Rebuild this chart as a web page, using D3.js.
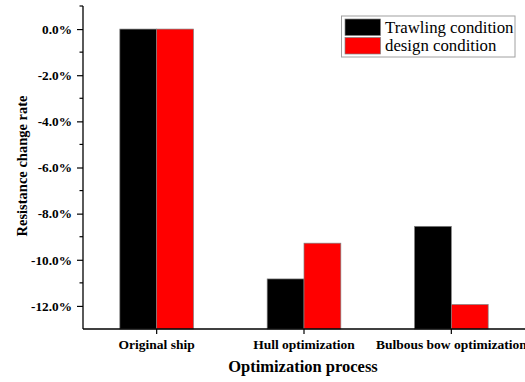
<!DOCTYPE html>
<html>
<head>
<meta charset="utf-8">
<script src="https://cdn.jsdelivr.net/npm/d3@7/dist/d3.min.js"></script>
<style>
  html, body { margin: 0; padding: 0; background: #fff; overflow: hidden; }
  svg { display: block; font-family: "Liberation Serif", "Times New Roman", serif; }
  svg text { font-family: "Liberation Serif", "Times New Roman", serif; }
</style>
</head>
<body>
<svg id="chart" width="525" height="382"></svg>
<script>
// Resistance change rate (%) per optimization stage
const categories = ["Original ship", "Hull optimization", "Bulbous bow optimization"];
const seriesNames = ["Trawling condition", "design condition"];
const trawling = [0.0, -10.83, -8.55];
const design = [0.0, -9.28, -11.94];
const yTicks = [0, -2, -4, -6, -8, -10, -12];
const yMinorTicks = [1, -1, -3, -5, -7, -9, -11];
const colors = ["#000000", "#ff0000"];

const svg = d3.select("#chart");
const margin = { left: 83, top: 6, bottom: 329 };
const xRight = 525;

const y = d3.scaleLinear().domain([-13, 1]).range([margin.bottom, margin.top]);
const x = d3.scaleBand().domain(categories).range([margin.left, xRight])
  .paddingInner(0.5).paddingOuter(0.25);
const xs = d3.scaleBand().domain(seriesNames).range([0, x.bandwidth()]);

const series = [trawling, design];

// Bars rise from the bottom of the value axis
const g = svg.append("g");
series.forEach((vals, si) => {
  g.selectAll(null).data(categories).enter().append("rect")
    .attr("x", d => x(d) + xs(seriesNames[si]))
    .attr("width", xs.bandwidth())
    .attr("y", (d, i) => y(vals[i]))
    .attr("height", (d, i) => y(-13) - y(vals[i]))
    .attr("fill", colors[si])
    .attr("stroke", "#808080")
    .attr("stroke-width", 0.7);
});

// Left axis
const yAxis = d3.axisLeft(y).tickValues(yTicks).tickSize(6).tickPadding(5)
  .tickFormat(d => d3.format(".1f")(d).replace("\u2212", "-") + "%");
const ya = svg.append("g").attr("transform", `translate(${margin.left},0)`).call(yAxis);
ya.select(".domain").attr("stroke", "#000").attr("stroke-width", 1.3)
  .attr("d", `M0,${margin.top}V${margin.bottom}`);
ya.selectAll(".tick line").attr("stroke-width", 1.2);
ya.selectAll(".tick text").attr("font-size", 13.3).attr("font-weight", "bold").attr("fill", "#000");
svg.append("g").selectAll(null).data(yMinorTicks).enter().append("line")
  .attr("x1", margin.left - 3.5).attr("x2", margin.left)
  .attr("y1", d => y(d)).attr("y2", d => y(d))
  .attr("stroke", "#000").attr("stroke-width", 1.2);

// Bottom axis (last category label runs past the right edge)
const xAxis = d3.axisBottom(x).tickSize(5).tickPadding(8);
const xa = svg.append("g").attr("transform", `translate(0,${margin.bottom})`).call(xAxis);
xa.select(".domain").attr("stroke", "#000").attr("stroke-width", 1.3)
  .attr("d", `M${margin.left},0H${xRight + 10}`);
xa.selectAll(".tick line").attr("stroke-width", 1.2);
xa.selectAll(".tick text").attr("font-size", 13.5).attr("font-weight", "bold").attr("fill", "#000")
  .attr("dy", null).attr("y", 20);

// Axis titles
svg.append("text")
  .attr("transform", `translate(27,166) rotate(-90)`)
  .attr("text-anchor", "middle").attr("font-size", 14.5).attr("font-weight", "bold")
  .text("Resistance change rate");
svg.append("text")
  .attr("x", 303).attr("y", 372)
  .attr("text-anchor", "middle").attr("font-size", 16.5).attr("font-weight", "bold")
  .text("Optimization process");

// Legend
const lg = svg.append("g").attr("transform", "translate(341.5,16)");
lg.append("rect").attr("width", 173.5).attr("height", 41)
  .attr("fill", "#fff").attr("stroke", "#a0a0a0").attr("stroke-width", 1);
seriesNames.forEach((name, i) => {
  lg.append("rect").attr("x", 3.5).attr("y", 3 + i * 18.5).attr("width", 35.5).attr("height", 16.5)
    .attr("fill", colors[i]).attr("stroke", "#808080").attr("stroke-width", 0.7);
  lg.append("text").attr("x", 43.5).attr("y", 17 + i * 17.6)
    .attr("font-size", 16.8).attr("fill", "#000").text(name);
});
</script>
</body>
</html>
